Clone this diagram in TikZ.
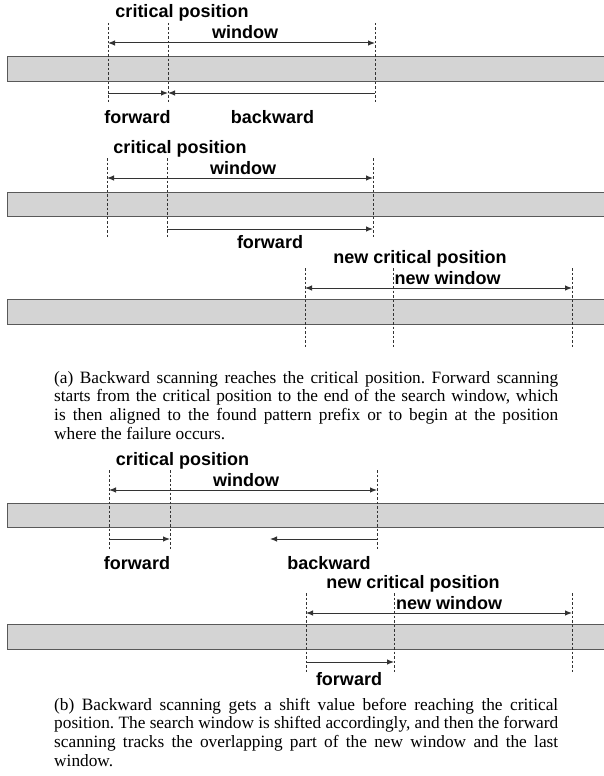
\documentclass[tikz,border=0pt]{standalone}
\usepackage{fontspec}
\setmainfont{Liberation Serif}
\setsansfont{Liberation Sans}
\usetikzlibrary{arrows.meta}

\tikzset{
  strip/.style={draw=black!65, line width=1pt, fill=black!17},
  guide/.style={draw=black!80, line width=0.7pt, dash pattern=on 2.5pt off 2pt},
  span/.style={draw=black!80, line width=1pt, {Latex[length=7pt,width=5.5pt]}-{Latex[length=7pt,width=5.5pt]}},
  scan/.style={draw=black!80, line width=1pt, -{Latex[length=7pt,width=5.5pt]}},
  lbl/.style={font=\sffamily\bfseries\fontsize{18}{20}\selectfont, anchor=base, inner sep=0pt},
  captxt/.style={font=\frenchspacing\fontsize{17.3}{18.8}\selectfont, text width=504pt, align=justify, anchor=base west, inner sep=0pt},
}

\begin{document}
\begin{tikzpicture}[x=1pt,y=-1pt]
    \useasboundingbox (0,0) rectangle (603,776);

    % Row 1: backward scan reaches critical position
    \draw[strip] (7,57) rectangle (610,81);
    \foreach \x in {108,168,375} \draw[guide] (\x,23) -- (\x,103);
    \coordinate (w1s) at (108,43); \coordinate (w1e) at (375,43);
    \coordinate (f1s) at (108,93); \coordinate (f1e) at (168,93);
    \coordinate (b1s) at (375,93); \coordinate (b1e) at (168,93);
    \draw[span] (w1s) -- (w1e);
    \draw[scan] (f1s) -- (f1e);
    \draw[scan] (b1s) -- (b1e);
    \node[lbl] (crit1) at (182,18) {critical position};
    \node[lbl] (win1) at (245,39) {window};
    \node[lbl] (fwd1) at (137.5,123) {forward};
    \node[lbl] (bwd1) at (272.5,123) {backward};

    % Row 2: forward scan to end of window
    \draw[strip] (7,192) rectangle (610,216);
    \foreach \x in {107,167,373} \draw[guide] (\x,158) -- (\x,238);
    \coordinate (w2s) at (107,178); \coordinate (w2e) at (373,178);
    \coordinate (f2s) at (167,229); \coordinate (f2e) at (373,229);
    \draw[span] (w2s) -- (w2e);
    \draw[scan] (f2s) -- (f2e);
    \node[lbl] (crit2) at (180,153) {critical position};
    \node[lbl] (win2) at (243,174) {window};
    \node[lbl] (fwd2) at (270,248) {forward};

    % Row 3: new window
    \draw[strip] (7,299) rectangle (610,324);
    \foreach \x in {305,393,572} \draw[guide] (\x,268) -- (\x,348);
    \coordinate (w3s) at (305,288); \coordinate (w3e) at (572,288);
    \draw[span] (w3s) -- (w3e);
    \node[lbl] (crit3) at (420,263) {new critical position};
    \node[lbl] (win3) at (447.5,284) {new window};

    \node[captxt] (capa) at (54,383) {(a) Backward scanning reaches the critical position. Forward scanning\linebreak starts from the critical position to the end of the search window, which\linebreak is then aligned to the found pattern prefix or to begin at the position\linebreak where the failure occurs.};

    % Row 4: backward scan gets a shift
    \draw[strip] (7,503) rectangle (610,527);
    \foreach \x in {109,170,377} \draw[guide] (\x,470) -- (\x,550);
    \coordinate (w4s) at (109,490); \coordinate (w4e) at (377,490);
    \coordinate (f4s) at (109,539); \coordinate (f4e) at (170,539);
    \coordinate (b4s) at (377,539); \coordinate (b4e) at (270,539);
    \draw[span] (w4s) -- (w4e);
    \draw[scan] (f4s) -- (f4e);
    \draw[scan] (b4s) -- (b4e);
    \node[lbl] (crit4) at (182.5,465) {critical position};
    \node[lbl] (win4) at (246,486) {window};
    \node[lbl] (fwd4) at (137,569) {forward};
    \node[lbl] (bwd4) at (329,569) {backward};

    % Row 5: shifted window, forward over overlap
    \draw[strip] (7,624) rectangle (610,649);
    \foreach \x in {306,394,572} \draw[guide] (\x,593) -- (\x,673);
    \coordinate (w5s) at (306,613); \coordinate (w5e) at (572,613);
    \coordinate (f5s) at (306,662); \coordinate (f5e) at (394,662);
    \draw[span] (w5s) -- (w5e);
    \draw[scan] (f5s) -- (f5e);
    \node[lbl] (crit5) at (413,588) {new critical position};
    \node[lbl] (win5) at (449,609) {new window};
    \node[lbl] (fwd5) at (349,685) {forward};

    \node[captxt] (capb) at (54,710) {(b) Backward scanning gets a shift value before reaching the critical\linebreak position. The search window is shifted accordingly, and then the forward\linebreak scanning tracks the overlapping part of the new window and the last\linebreak window.};
\end{tikzpicture}
\end{document}
